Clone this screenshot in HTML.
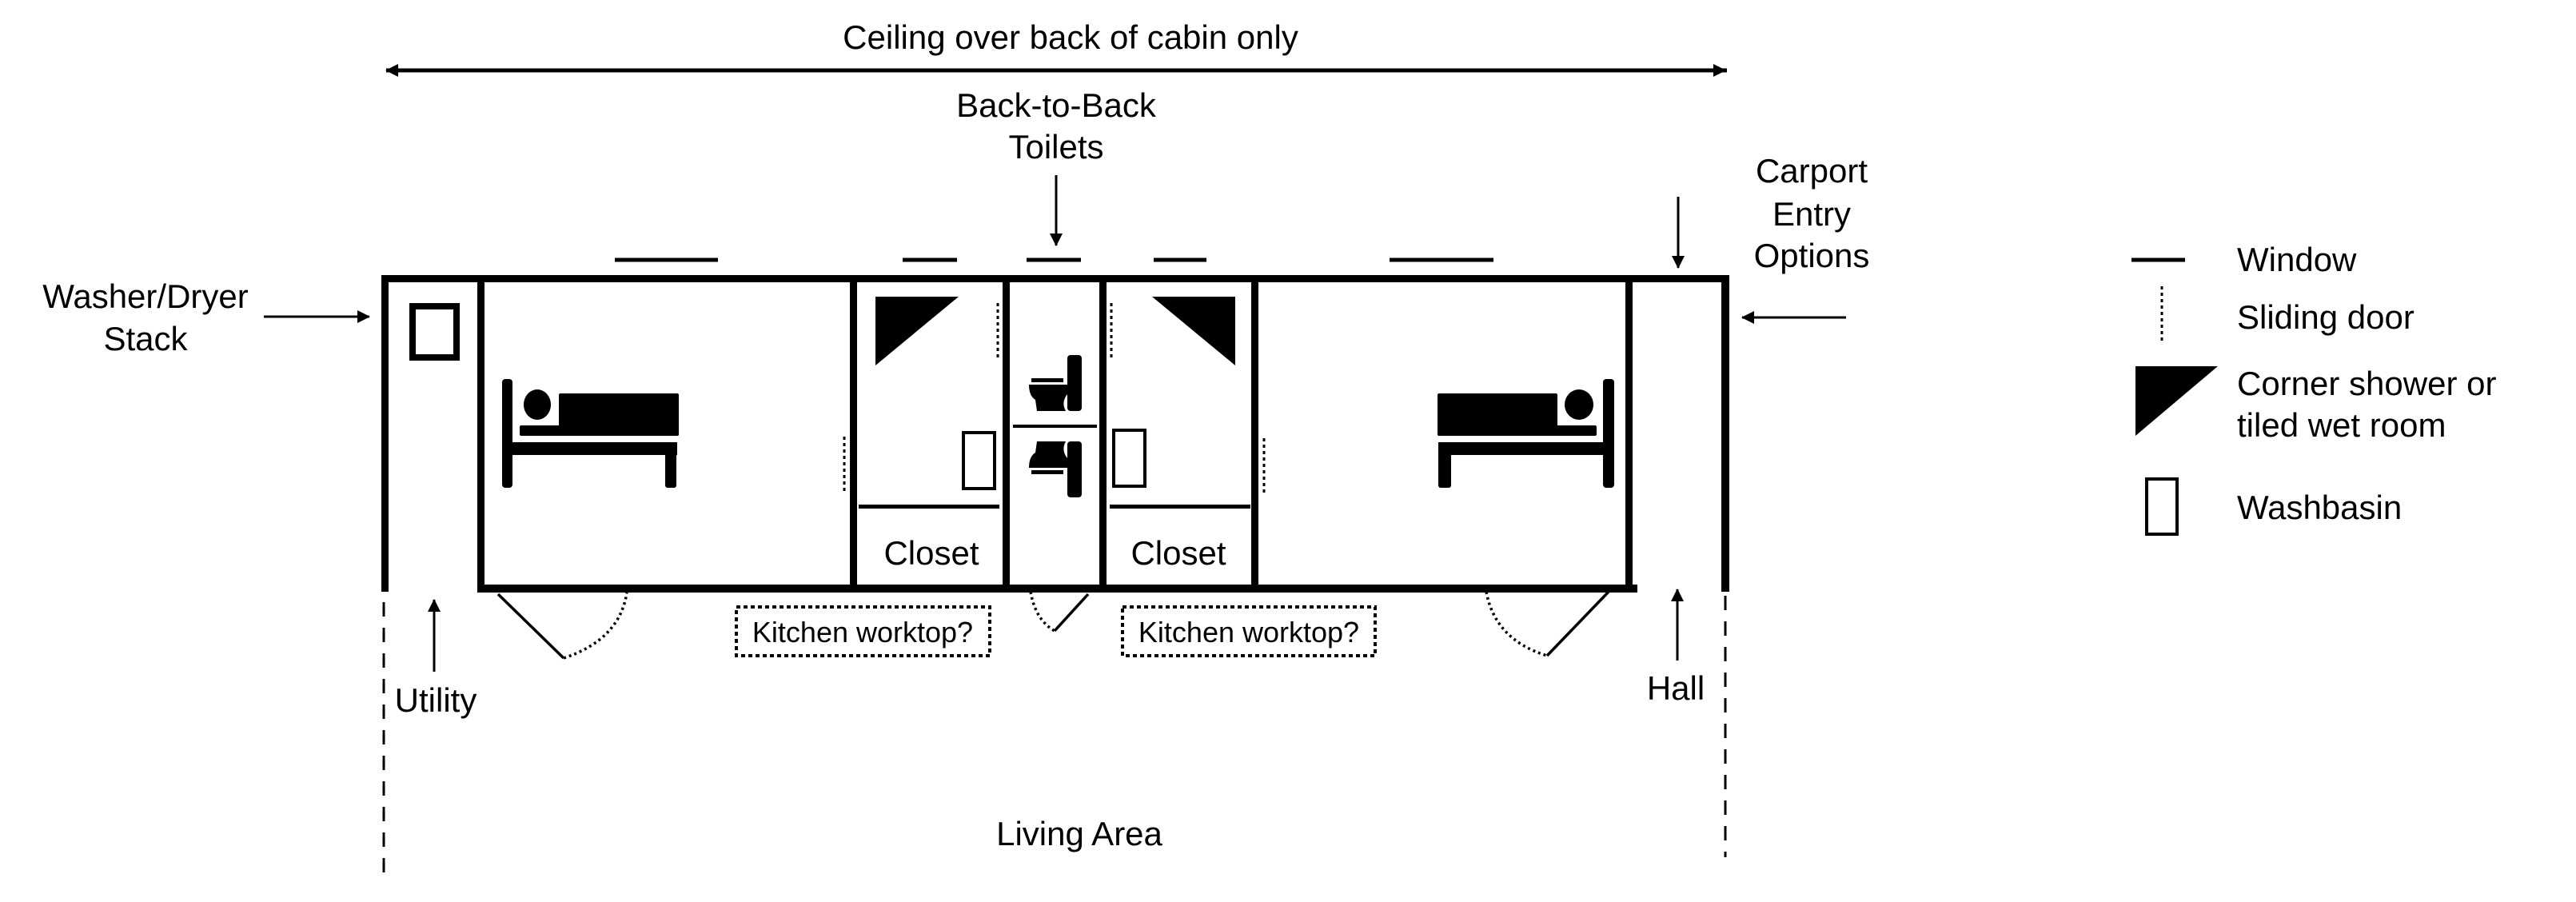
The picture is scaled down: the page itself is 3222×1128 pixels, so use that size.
<!DOCTYPE html>
<html><head><meta charset="utf-8"><style>
html,body{margin:0;padding:0;background:#fff;}
svg{display:block;}
text{font-family:"Liberation Sans",Arial,sans-serif;fill:#000;}
</style></head><body>
<svg width="3222" height="1128" viewBox="0 0 3222 1128" xmlns="http://www.w3.org/2000/svg">
<defs>
<marker id="ahb" markerWidth="16" markerHeight="16" refX="15" refY="8" orient="auto" markerUnits="userSpaceOnUse">
<path d="M0,0 L16,8 L0,16 Z" fill="#000"/></marker>
</defs>
<g font-size="42" text-anchor="middle">
<text x="1339" y="61">Ceiling over back of cabin only</text>
<text x="1321" y="146">Back-to-Back</text>
<text x="1321" y="198">Toilets</text>
<text x="2266" y="228">Carport</text>
<text x="2266" y="282">Entry</text>
<text x="2266" y="334">Options</text>
<text x="182" y="385">Washer/Dryer</text>
<text x="182" y="438">Stack</text>
<text x="1165" y="706">Closet</text>
<text x="1474" y="706">Closet</text>
<text x="545" y="890">Utility</text>
<text x="2096" y="875">Hall</text>
<text x="1350" y="1057">Living Area</text>
</g>
<g font-size="42">
<text x="2798" y="339">Window</text>
<text x="2798" y="411">Sliding door</text>
<text x="2798" y="494">Corner shower or</text>
<text x="2798" y="546">tiled wet room</text>
<text x="2798" y="649">Washbasin</text>
</g>
<line x1="485" y1="88" x2="2158" y2="88" stroke="#000" stroke-width="5" marker-end="url(#ahb)"/>
<line x1="2160" y1="88" x2="483" y2="88" stroke="#000" stroke-width="5" marker-end="url(#ahb)"/>
<line x1="1321" y1="219" x2="1321" y2="307" stroke="#000" stroke-width="3" marker-end="url(#ahb)"/>
<line x1="2099" y1="246" x2="2099" y2="335" stroke="#000" stroke-width="3" marker-end="url(#ahb)"/>
<line x1="330" y1="396" x2="462" y2="396" stroke="#000" stroke-width="3" marker-end="url(#ahb)"/>
<line x1="2309" y1="397" x2="2179" y2="397" stroke="#000" stroke-width="3" marker-end="url(#ahb)"/>
<line x1="543" y1="840" x2="543" y2="750" stroke="#000" stroke-width="3" marker-end="url(#ahb)"/>
<line x1="2098" y1="826" x2="2098" y2="737" stroke="#000" stroke-width="3" marker-end="url(#ahb)"/>
<g stroke="#000" stroke-width="5">
<line x1="769" y1="325" x2="898" y2="325"/>
<line x1="1129" y1="325" x2="1197" y2="325"/>
<line x1="1284" y1="325" x2="1352" y2="325"/>
<line x1="1443" y1="325" x2="1509" y2="325"/>
<line x1="1738" y1="325" x2="1868" y2="325"/>
<line x1="2666" y1="325" x2="2733" y2="325"/>
</g>
<g fill="#000">
<rect x="477" y="344" width="1686" height="9"/>
<rect x="477" y="344" width="9" height="396"/>
<rect x="2153" y="344" width="10" height="396"/>
<rect x="597" y="731" width="1451" height="10"/>
<rect x="597" y="344" width="9" height="396"/>
<rect x="1063" y="344" width="9" height="396"/>
<rect x="1254" y="344" width="9" height="396"/>
<rect x="1375" y="344" width="9" height="396"/>
<rect x="1565" y="344" width="9" height="396"/>
<rect x="2033" y="344" width="9" height="396"/>
<rect x="1074" y="631" width="176" height="5"/>
<rect x="1388" y="631" width="176" height="5"/>
<rect x="1267" y="531" width="105" height="4"/>
</g>
<rect x="516" y="383" width="55" height="64" fill="none" stroke="#000" stroke-width="8"/>
<path d="M1095,371 L1199,371 L1095,457 Z" fill="#000"/>
<path d="M1441,371 L1545,371 L1545,457 Z" fill="#000"/>
<path d="M2671,458 L2774,458 L2671,545 Z" fill="#000"/>
<g fill="none" stroke="#000" stroke-width="4">
<rect x="1205" y="541" width="39" height="70"/>
<rect x="1393" y="538" width="39" height="70"/>
<rect x="2685" y="599" width="38" height="69"/>
</g>
<g stroke="#000" stroke-width="3" stroke-dasharray="4,4">
<line x1="1248" y1="379" x2="1248" y2="450"/>
<line x1="1390" y1="379" x2="1390" y2="450"/>
<line x1="1056" y1="546" x2="1056" y2="618"/>
<line x1="1581" y1="548" x2="1581" y2="620"/>
<line x1="2704" y1="358" x2="2704" y2="428"/>
</g>
<g fill="#000">
<rect x="628" y="474" width="13" height="136" rx="4"/>
<ellipse cx="672" cy="506" rx="17" ry="19"/>
<rect x="699" y="492" width="150" height="53" rx="2"/>
<rect x="650" y="532" width="199" height="13" rx="2"/>
<rect x="641" y="553" width="206" height="16"/>
<rect x="832" y="553" width="14" height="57" rx="3"/>
<rect x="2005" y="474" width="14" height="136" rx="4"/>
<ellipse cx="1975" cy="506" rx="18" ry="19"/>
<rect x="1798" y="492" width="150" height="53" rx="2"/>
<rect x="1798" y="532" width="199" height="13" rx="2"/>
<rect x="1799" y="553" width="208" height="16"/>
<rect x="1799" y="553" width="16" height="57" rx="3"/>
</g>
<g fill="#000">
<rect x="1335" y="444" width="18" height="70" rx="4"/>
<rect x="1290" y="473" width="40" height="5"/>
<path d="M1287,481 L1335,481 L1335,493 Q1327,503 1333,514 L1297,514 L1295,500 Q1287,495 1287,481 Z"/>
<rect x="1335" y="552" width="18" height="70" rx="4"/>
<rect x="1290" y="588" width="40" height="5"/>
<path d="M1287,585 L1335,585 L1335,573 Q1327,563 1333,552 L1297,552 L1295,566 Q1287,571 1287,585 Z"/>
</g>
<g fill="none" stroke="#000" stroke-width="3.5">
<line x1="623" y1="743" x2="705" y2="823"/>
<line x1="1361" y1="743" x2="1319" y2="789"/>
<line x1="2012" y1="740" x2="1935" y2="820"/>
</g>
<g fill="none" stroke="#000" stroke-width="3.5" stroke-dasharray="3,4">
<path d="M705,823 Q775,800 784,741"/>
<path d="M1289,740 Q1295,775 1319,789"/>
<path d="M1859,740 Q1870,800 1935,820"/>
</g>
<g fill="none" stroke="#000" stroke-width="4" stroke-dasharray="5,4">
<rect x="921" y="759" width="317" height="61"/>
<rect x="1404" y="759" width="316" height="61"/>
</g>
<g font-size="36" text-anchor="middle">
<text x="1079" y="803">Kitchen worktop?</text>
<text x="1562" y="803">Kitchen worktop?</text>
</g>
<g stroke="#000" stroke-width="3" stroke-dasharray="18,14">
<line x1="480" y1="753" x2="480" y2="1100"/>
<line x1="2158" y1="745" x2="2158" y2="1072"/>
</g>
</svg>
</body></html>
